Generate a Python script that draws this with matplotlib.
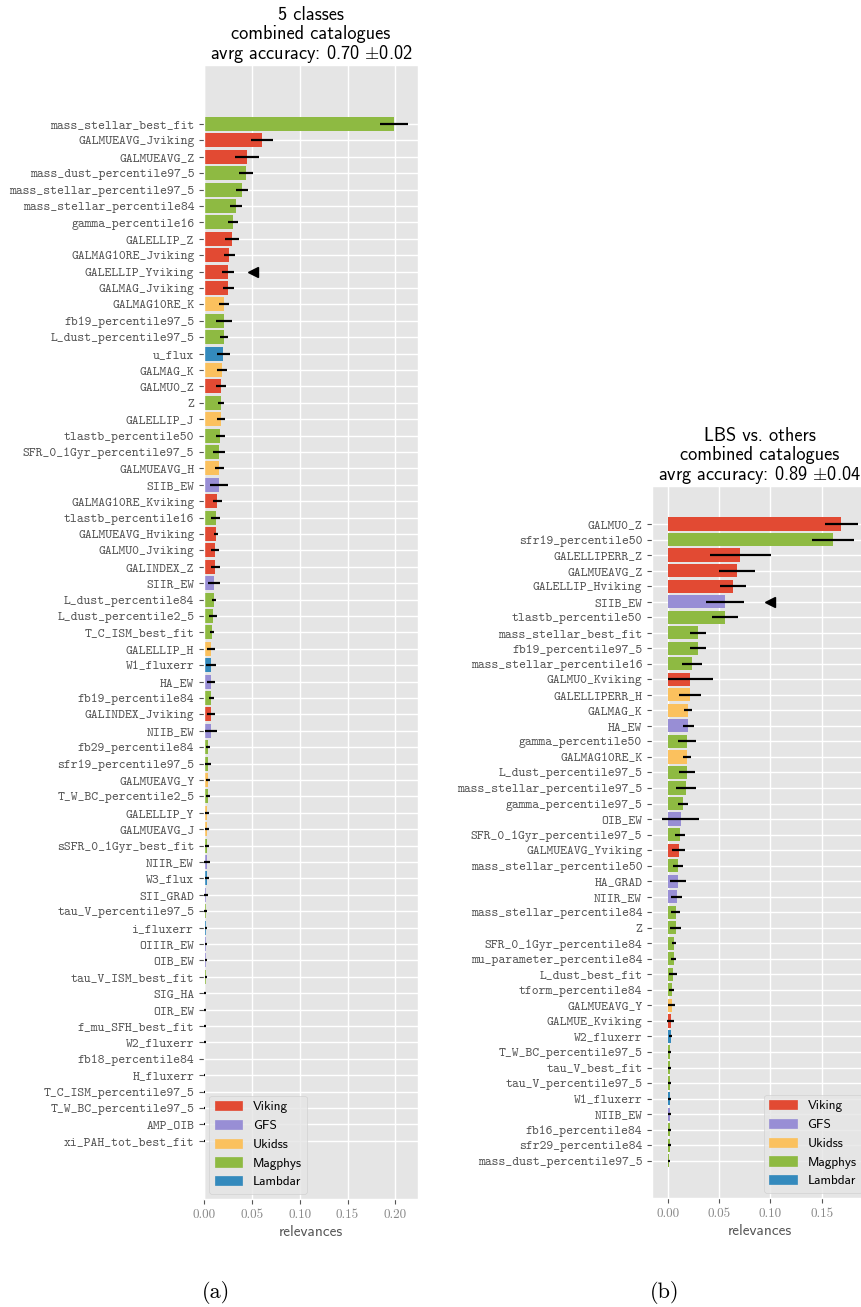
import matplotlib
matplotlib.use('Agg')
import matplotlib.pyplot as plt
from matplotlib.patches import Patch
import numpy as np

plt.style.use('ggplot')
plt.rcParams['font.family'] = 'cmr10'
plt.rcParams['mathtext.fontset'] = 'cm'
plt.rcParams['axes.formatter.use_mathtext'] = True
plt.rcParams['axes.unicode_minus'] = False

# catalogue colours (ggplot cycle)
cat_names = ['Viking', 'GFS', 'Ukidss', 'Magphys', 'Lambdar']
cat_colors = {'Viking': '#E24A33', 'GFS': '#988ED5', 'Ukidss': '#FBC15E',
              'Magphys': '#8EBA42', 'Lambdar': '#348ABD'}

# ---- panel (a): 5 classes ----
feat_a = ['mass_stellar_best_fit', 'GALMUEAVG_Jviking', 'GALMUEAVG_Z', 'mass_dust_percentile97_5',
          'mass_stellar_percentile97_5', 'mass_stellar_percentile84', 'gamma_percentile16', 'GALELLIP_Z',
          'GALMAG10RE_Jviking', 'GALELLIP_Yviking', 'GALMAG_Jviking', 'GALMAG10RE_K',
          'fb19_percentile97_5', 'L_dust_percentile97_5', 'u_flux', 'GALMAG_K', 'GALMU0_Z', 'Z',
          'GALELLIP_J', 'tlastb_percentile50', 'SFR_0_1Gyr_percentile97_5', 'GALMUEAVG_H', 'SIIB_EW',
          'GALMAG10RE_Kviking', 'tlastb_percentile16', 'GALMUEAVG_Hviking', 'GALMU0_Jviking',
          'GALINDEX_Z', 'SIIR_EW', 'L_dust_percentile84', 'L_dust_percentile2_5', 'T_C_ISM_best_fit',
          'GALELLIP_H', 'W1_fluxerr', 'HA_EW', 'fb19_percentile84', 'GALINDEX_Jviking', 'NIIB_EW',
          'fb29_percentile84', 'sfr19_percentile97_5', 'GALMUEAVG_Y', 'T_W_BC_percentile2_5',
          'GALELLIP_Y', 'GALMUEAVG_J', 'sSFR_0_1Gyr_best_fit', 'NIIR_EW', 'W3_flux', 'SII_GRAD',
          'tau_V_percentile97_5', 'i_fluxerr', 'OIIIR_EW', 'OIB_EW', 'tau_V_ISM_best_fit', 'SIG_HA',
          'OIR_EW', 'f_mu_SFH_best_fit', 'W2_fluxerr', 'fb18_percentile84', 'H_fluxerr',
          'T_C_ISM_percentile97_5', 'T_W_BC_percentile97_5', 'AMP_OIB', 'xi_PAH_tot_best_fit']
rel_a = [0.1986, 0.0606, 0.0449, 0.0439, 0.0397, 0.0334, 0.0303, 0.0293, 0.0265, 0.0251,
         0.0251, 0.0209, 0.0209, 0.0209, 0.0199, 0.0188, 0.0178, 0.0178, 0.0178, 0.0167,
         0.0157, 0.0157, 0.0157, 0.0136, 0.0125, 0.0125, 0.0115, 0.0115, 0.0105, 0.0105,
         0.0094, 0.0084, 0.0073, 0.0073, 0.0073, 0.0073, 0.0073, 0.0073, 0.0042, 0.0042,
         0.0042, 0.0042, 0.0031, 0.0031, 0.0031, 0.0031, 0.0030, 0.0020, 0.0017, 0.0020,
         0.0020, 0.0017, 0.0020, 0.0010, 0.0010, 0.0010, 0.0010, 0.0010, 0.0008, 0.0008,
         0.0008, 0.0004, 0.0003]
err_a = [0.0143, 0.0115, 0.0127, 0.0073, 0.0066, 0.0064, 0.0049, 0.0077, 0.0059, 0.0063,
         0.0057, 0.0052, 0.0082, 0.0044, 0.0068, 0.0049, 0.0054, 0.0030, 0.0042, 0.0047,
         0.0064, 0.0047, 0.0094, 0.0047, 0.0047, 0.0026, 0.0042, 0.0047, 0.0061, 0.0024,
         0.0045, 0.0023, 0.0042, 0.0050, 0.0045, 0.0026, 0.0040, 0.0066, 0.0024, 0.0035,
         0.0024, 0.0017, 0.0026, 0.0017, 0.0017, 0.0028, 0.0020, 0.0017, 0.0015, 0.0012,
         0.0015, 0.0012, 0.0015, 0.0010, 0.0010, 0.0010, 0.0006, 0.0005, 0.0005, 0.0005,
         0.0004, 0.0008, 0.0003]
src_a = ['Magphys', 'Viking', 'Viking', 'Magphys', 'Magphys', 'Magphys', 'Magphys', 'Viking',
         'Viking', 'Viking', 'Viking', 'Ukidss', 'Magphys', 'Magphys', 'Lambdar', 'Ukidss',
         'Viking', 'Magphys', 'Ukidss', 'Magphys', 'Magphys', 'Ukidss', 'GFS', 'Viking',
         'Magphys', 'Viking', 'Viking', 'Viking', 'GFS', 'Magphys', 'Magphys', 'Magphys',
         'Ukidss', 'Lambdar', 'GFS', 'Magphys', 'Viking', 'GFS', 'Magphys', 'Magphys',
         'Ukidss', 'Magphys', 'Ukidss', 'Ukidss', 'Magphys', 'GFS', 'Lambdar', 'GFS',
         'Magphys', 'Lambdar', 'GFS', 'GFS', 'Magphys', 'GFS', 'GFS', 'Magphys', 'Lambdar',
         'Magphys', 'Lambdar', 'Magphys', 'Magphys', 'GFS', 'Magphys']
mark_a = ('GALELLIP_Yviking', 0.051)

# ---- panel (b): LBS vs. others ----
feat_b = ['GALMU0_Z', 'sfr19_percentile50', 'GALELLIPERR_Z', 'GALMUEAVG_Z', 'GALELLIP_Hviking',
          'SIIB_EW', 'tlastb_percentile50', 'mass_stellar_best_fit', 'fb19_percentile97_5',
          'mass_stellar_percentile16', 'GALMU0_Kviking', 'GALELLIPERR_H', 'GALMAG_K', 'HA_EW',
          'gamma_percentile50', 'GALMAG10RE_K', 'L_dust_percentile97_5',
          'mass_stellar_percentile97_5', 'gamma_percentile97_5', 'OIB_EW',
          'SFR_0_1Gyr_percentile97_5', 'GALMUEAVG_Yviking', 'mass_stellar_percentile50', 'HA_GRAD',
          'NIIR_EW', 'mass_stellar_percentile84', 'Z', 'SFR_0_1Gyr_percentile84',
          'mu_parameter_percentile84', 'L_dust_best_fit', 'tform_percentile84', 'GALMUEAVG_Y',
          'GALMUE_Kviking', 'W2_fluxerr', 'T_W_BC_percentile97_5', 'tau_V_best_fit',
          'tau_V_percentile97_5', 'W1_fluxerr', 'NIIB_EW', 'fb16_percentile84',
          'sfr29_percentile84', 'mass_dust_percentile97_5']
rel_b = [0.1688, 0.1610, 0.0704, 0.0672, 0.0633, 0.0558, 0.0558, 0.0292, 0.0292, 0.0237,
         0.0217, 0.0217, 0.0198, 0.0198, 0.0188, 0.0188, 0.0188, 0.0178, 0.0149, 0.0127,
         0.0117, 0.0107, 0.0097, 0.0097, 0.0088, 0.0078, 0.0078, 0.0058, 0.0058, 0.0049,
         0.0039, 0.0039, 0.0029, 0.0029, 0.0019, 0.0019, 0.0019, 0.0019, 0.0019, 0.0019,
         0.0019, 0.0015]
err_b = [0.0161, 0.0205, 0.0297, 0.0177, 0.0125, 0.0188, 0.0123, 0.0076, 0.0076, 0.0101,
         0.0219, 0.0110, 0.0039, 0.0054, 0.0084, 0.0039, 0.0078, 0.0097, 0.0049, 0.0179,
         0.0047, 0.0062, 0.0049, 0.0078, 0.0054, 0.0044, 0.0054, 0.0021, 0.0023, 0.0039,
         0.0026, 0.0036, 0.0032, 0.0015, 0.0012, 0.0015, 0.0012, 0.0015, 0.0012, 0.0012,
         0.0012, 0.0010]
src_b = ['Viking', 'Magphys', 'Viking', 'Viking', 'Viking', 'GFS', 'Magphys', 'Magphys',
         'Magphys', 'Magphys', 'Viking', 'Ukidss', 'Ukidss', 'GFS', 'Magphys', 'Ukidss',
         'Magphys', 'Magphys', 'Magphys', 'GFS', 'Magphys', 'Viking', 'Magphys', 'GFS', 'GFS',
         'Magphys', 'Magphys', 'Magphys', 'Magphys', 'Magphys', 'Magphys', 'Ukidss', 'Viking',
         'Lambdar', 'Magphys', 'Magphys', 'Magphys', 'Lambdar', 'GFS', 'Magphys', 'Magphys',
         'Magphys']
mark_b = ('SIIB_EW', 0.100)

title_a = '5 classes\ncombined catalogues\navrg accuracy: 0.70 $\\pm$0.02'
title_b = 'LBS vs. others\ncombined catalogues\navrg accuracy: 0.89 $\\pm$0.04'

fig = plt.figure(figsize=(8.62, 13.07), dpi=100)


def draw_panel(ax, feats, rel, err, src, mark, title, xlim, ylim, legend_loc):
    y = np.arange(len(feats))
    colors = [cat_colors[s] for s in src]
    ax.barh(y, rel, height=0.85, color=colors, zorder=2)
    ax.errorbar(rel, y, xerr=err, fmt='none', ecolor='black', elinewidth=1.6, capsize=0, zorder=3)
    ax.plot(mark[1], feats.index(mark[0]), marker='<', color='black', markersize=7, zorder=4)
    ax.set_yticks(y)
    ax.set_yticklabels(feats, family='cmtt10', fontsize=9.4, color='#555555')
    ax.set_xticks([0.0, 0.05, 0.10, 0.15, 0.20])
    ax.set_xticklabels(['0.00', '0.05', '0.10', '0.15', '0.20'], family='cmr10', fontsize=9.4,
                       color='#888888')
    ax.set_xlim(*xlim)
    ax.set_ylim(*ylim)
    ax.set_xlabel('relevances', family='cmss10', fontsize=11, color='#555555', labelpad=3)
    ax.set_title(title, family='cmss10', fontsize=13.2, color='black', pad=4, linespacing=1.02)
    ax.grid(True, color='white', linewidth=1.0)
    ax.set_axisbelow(True)
    handles = [Patch(facecolor=cat_colors[c], edgecolor=cat_colors[c], label=c) for c in cat_names]
    ax.legend(handles=handles, loc=legend_loc, prop={'family': 'cmss10', 'size': 9.5},
              borderaxespad=0.4, handlelength=2.1)


ax_a = fig.add_axes([0.2367, 0.0826, 0.2483, 0.8677])
draw_panel(ax_a, feat_a, rel_a, err_a, src_a, mark_a, title_a,
           (0.0, 0.2237), (65.55, -3.6), 'lower left')

ax_b = fig.add_axes([0.7564, 0.0834, 0.2494, 0.5448])
draw_panel(ax_b, feat_b, rel_b, err_b, src_b, mark_b, title_b,
           (-0.0153, 0.194), (43.4, -2.45), 'lower right')
ax_b.set_xticks([0.0, 0.05, 0.10, 0.15])
ax_b.set_xticklabels(['0.00', '0.05', '0.10', '0.15'], family='cmr10', fontsize=9.4, color='#888888')

fig.text(216 / 862, 1 - 1292 / 1307, '(a)', family='cmr10', fontsize=16, ha='center', va='center')
fig.text(665 / 862, 1 - 1292 / 1307, '(b)', family='cmr10', fontsize=16, ha='center', va='center')

fig.savefig('out.png', dpi=100)
